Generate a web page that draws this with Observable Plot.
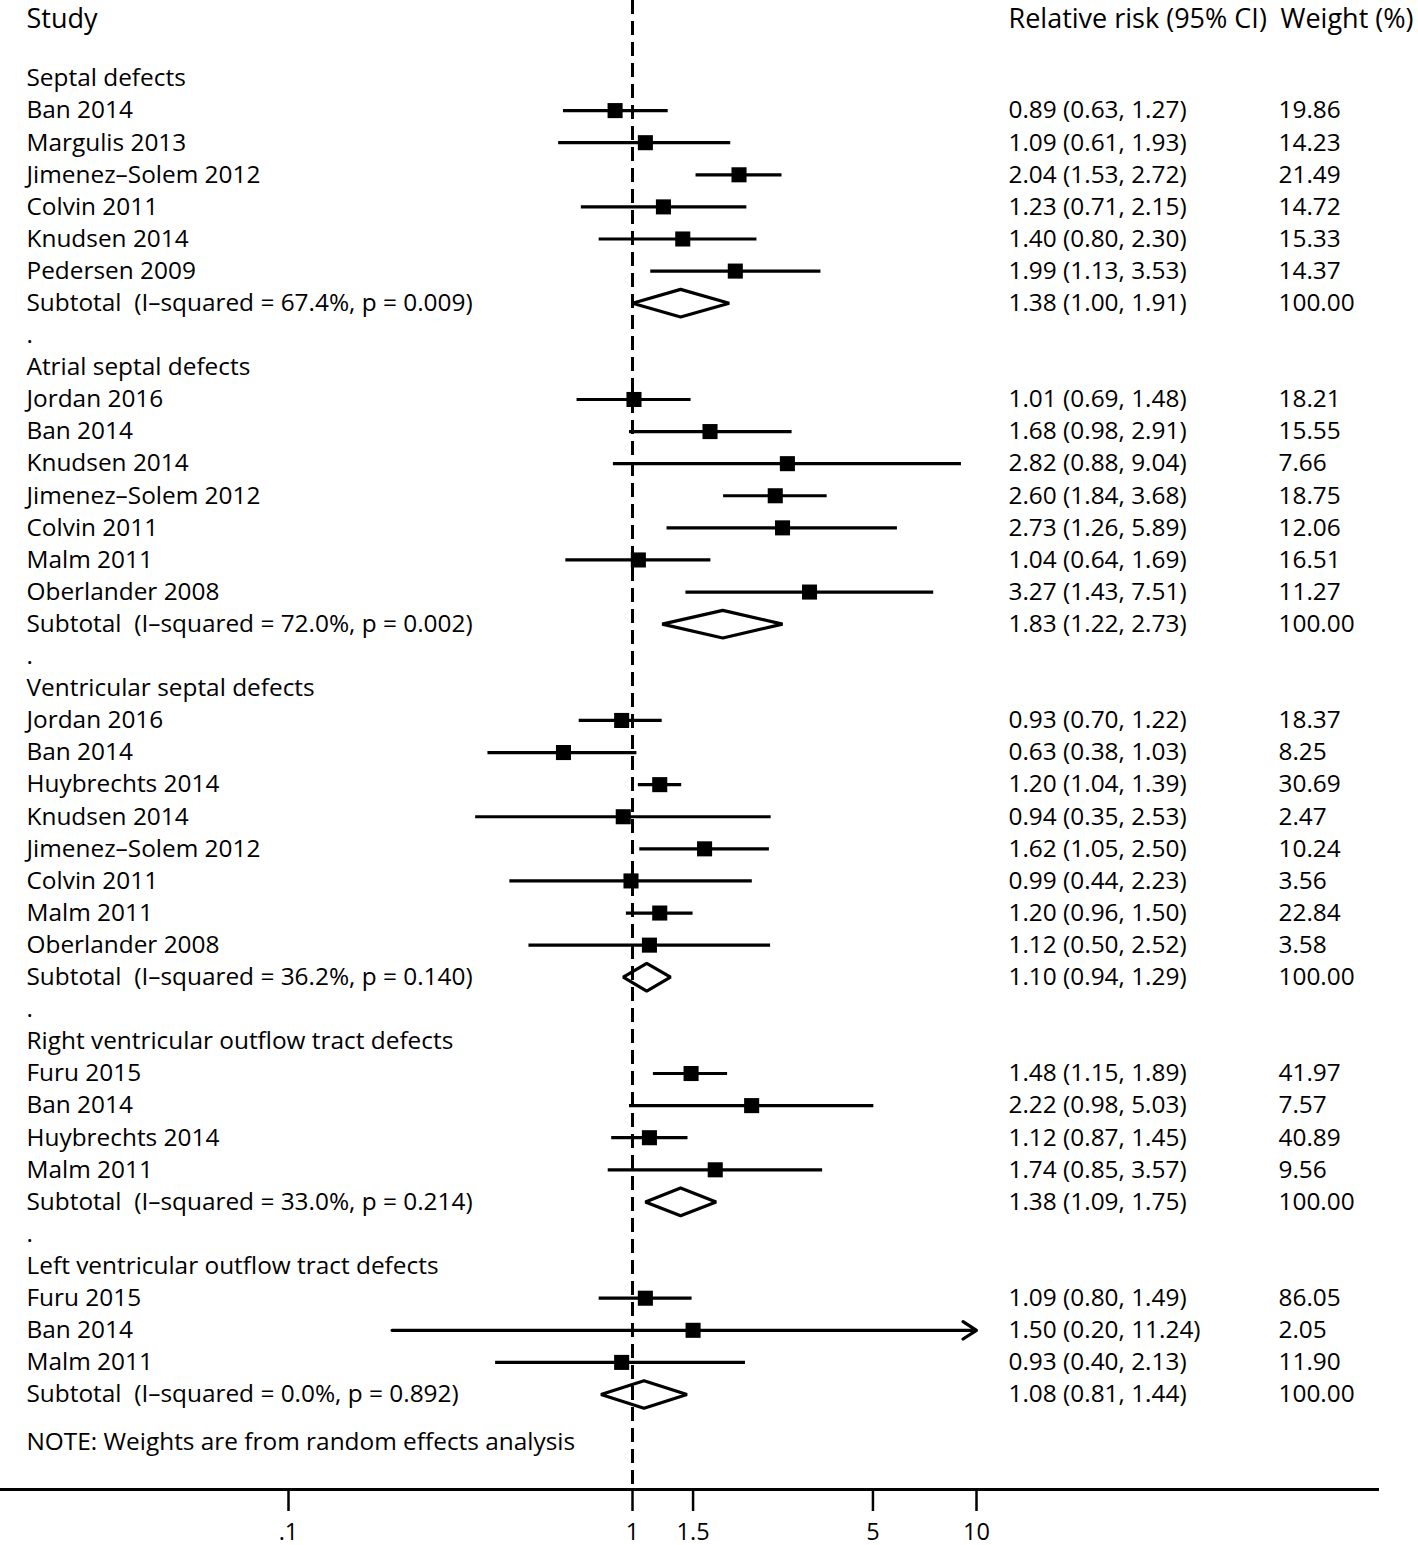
<!DOCTYPE html>
<html>
<head>
<meta charset="utf-8">
<script src="https://cdn.jsdelivr.net/npm/d3@7"></script>
<script src="https://cdn.jsdelivr.net/npm/@observablehq/plot@0.6"></script>
<style>
  body { margin: 0; background: #fff; }
  #chart svg text { white-space: pre; }
</style>
</head>
<body>
<div id="chart"></div>
<script>
// ---- data ----
const groupNames = [
  "Septal defects",
  "Atrial septal defects",
  "Ventricular septal defects",
  "Right ventricular outflow tract defects",
  "Left ventricular outflow tract defects"
];
const studyGroup = [0,0,0,0,0,0, 1,1,1,1,1,1,1, 2,2,2,2,2,2,2,2, 3,3,3,3, 4,4,4];
const studyNames = [
  "Ban 2014","Margulis 2013","Jimenez\u2013Solem 2012","Colvin 2011","Knudsen 2014","Pedersen 2009",
  "Jordan 2016","Ban 2014","Knudsen 2014","Jimenez\u2013Solem 2012","Colvin 2011","Malm 2011","Oberlander 2008",
  "Jordan 2016","Ban 2014","Huybrechts 2014","Knudsen 2014","Jimenez\u2013Solem 2012","Colvin 2011","Malm 2011","Oberlander 2008",
  "Furu 2015","Ban 2014","Huybrechts 2014","Malm 2011",
  "Furu 2015","Ban 2014","Malm 2011"
];
const studyRR = [0.89,1.09,2.04,1.23,1.40,1.99, 1.01,1.68,2.82,2.60,2.73,1.04,3.27, 0.93,0.63,1.20,0.94,1.62,0.99,1.20,1.12, 1.48,2.22,1.12,1.74, 1.09,1.50,0.93];
const studyLo = [0.63,0.61,1.53,0.71,0.80,1.13, 0.69,0.98,0.88,1.84,1.26,0.64,1.43, 0.70,0.38,1.04,0.35,1.05,0.44,0.96,0.50, 1.15,0.98,0.87,0.85, 0.80,0.20,0.40];
const studyHi = [1.27,1.93,2.72,2.15,2.30,3.53, 1.48,2.91,9.04,3.68,5.89,1.69,7.51, 1.22,1.03,1.39,2.53,2.50,2.23,1.50,2.52, 1.89,5.03,1.45,3.57, 1.49,11.24,2.13];
const studyWeight = [19.86,14.23,21.49,14.72,15.33,14.37, 18.21,15.55,7.66,18.75,12.06,16.51,11.27, 18.37,8.25,30.69,2.47,10.24,3.56,22.84,3.58, 41.97,7.57,40.89,9.56, 86.05,2.05,11.90];

const subI2 = ["67.4%","72.0%","36.2%","33.0%","0.0%"];
const subP = ["0.009","0.002","0.140","0.214","0.892"];
const subRR = [1.38,1.83,1.10,1.38,1.08];
const subLo = [1.00,1.22,0.94,1.09,0.81];
const subHi = [1.91,2.73,1.29,1.75,1.44];
const subWeight = [100,100,100,100,100];

const headStudy = "Study";
const headRR = "Relative risk (95% CI)";
const headWeight = "Weight (%)";
const noteText = "NOTE: Weights are from random effects analysis";

const tickValues = [0.1, 1, 1.5, 5, 10];
const tickLabels = [".1", "1", "1.5", "5", "10"];
const nullValue = 1;

// ---- layout rows ----
const fmt = d3.format(".2f");
const studies = [], subtotals = [], leftText = [], rrText = [], wText = [];
let row = 0;
groupNames.forEach((g, gi) => {
  leftText.push({row, label: g});
  row++;
  studyNames.forEach((s, i) => {
    if (studyGroup[i] !== gi) return;
    studies.push({row, rr: studyRR[i], lo: studyLo[i], hi: studyHi[i]});
    leftText.push({row, label: s});
    rrText.push({row, label: `${fmt(studyRR[i])} (${fmt(studyLo[i])}, ${fmt(studyHi[i])})`});
    wText.push({row, label: fmt(studyWeight[i])});
    row++;
  });
  subtotals.push({row, rr: subRR[gi], lo: subLo[gi], hi: subHi[gi], g: gi});
  leftText.push({row, label: `Subtotal  (I\u2013squared = ${subI2[gi]}, p = ${subP[gi]})`});
  rrText.push({row, label: `${fmt(subRR[gi])} (${fmt(subLo[gi])}, ${fmt(subHi[gi])})`});
  wText.push({row, label: fmt(subWeight[gi])});
  row++;
  if (gi < groupNames.length - 1) { leftText.push({row, label: "."}); row++; }
});
const lastRow = row - 1;
leftText.push({row: lastRow + 1.5, label: noteText});
const headerRow = -1.85;
const headers = [
  {row: headerRow, label: headStudy, dx: 26},
  {row: headerRow, label: headRR, dx: 1008},
  {row: headerRow, label: headWeight, dx: 1280}
];

const xMax = tickValues[tickValues.length - 1];
const plain = studies.filter(d => d.hi <= xMax);
const clipped = studies.filter(d => d.hi > xMax);

const H = 0.43; // diamond half-height in rows
const diamond = subtotals.flatMap(d => [
  {g: d.g, x: d.lo, y: d.row},
  {g: d.g, x: d.rr, y: d.row - H},
  {g: d.g, x: d.hi, y: d.row},
  {g: d.g, x: d.rr, y: d.row + H}
]);

const FS = 24.4;   // body text
const FH = 27;     // header text
const FT = 23.5;   // tick labels
const LW = 3.2;
const chart = Plot.plot({
  width: 1418,
  height: 1545,
  marginTop: 0,
  marginBottom: 56,
  marginLeft: 0,
  marginRight: 41,
  style: {fontFamily: "'Open Sans', sans-serif", fontSize: FS + "px", background: "#fff", color: "#000", overflow: "visible"},
  x: {type: "log", domain: [tickValues[0], xMax], range: [288, 976]},
  y: {domain: [0, lastRow], range: [78, 1394], axis: null},
  marks: [
    Plot.frame({anchor: "bottom", stroke: "#000", strokeWidth: 3}),
    Plot.ruleX([nullValue], {stroke: "#000", strokeWidth: 3, strokeDasharray: "14,7"}),
    Plot.ruleY(plain, {x1: "lo", x2: "hi", y: "row", stroke: "#000", strokeWidth: LW}),
    Plot.arrow(clipped, {x1: "lo", x2: () => xMax, y1: "row", y2: "row", stroke: "#000", strokeWidth: LW, headLength: 7.5, headAngle: 66}),
    Plot.dot(studies, {x: "rr", y: "row", symbol: "square", r: 8.5, fill: "#000", stroke: null}),
    Plot.line(diamond, {x: "x", y: "y", z: "g", curve: "linear-closed", stroke: "#000", strokeWidth: LW, strokeLinejoin: "miter", fill: "none"}),
    Plot.text(leftText, {y: "row", text: "label", frameAnchor: "left", dx: 26, textAnchor: "start", fontSize: FS, fill: "#000"}),
    Plot.text(rrText, {y: "row", text: "label", frameAnchor: "left", dx: 1008, textAnchor: "start", fontSize: FS, fill: "#000"}),
    Plot.text(wText, {y: "row", text: "label", frameAnchor: "left", dx: 1278, textAnchor: "start", fontSize: FS, fill: "#000"}),
    ...headers.map(h => Plot.text([h], {y: "row", text: "label", frameAnchor: "left", dx: h.dx, textAnchor: "start", fontSize: FH, fill: "#000"})),
    Plot.axisX({ticks: tickValues, tickFormat: d => tickLabels[tickValues.indexOf(d)], tickSize: 22, tickPadding: 12, strokeWidth: 2.5, fontSize: FT, label: null, fill: "#000"})
  ]
});
document.getElementById("chart").appendChild(chart);
</script>
</body>
</html>
